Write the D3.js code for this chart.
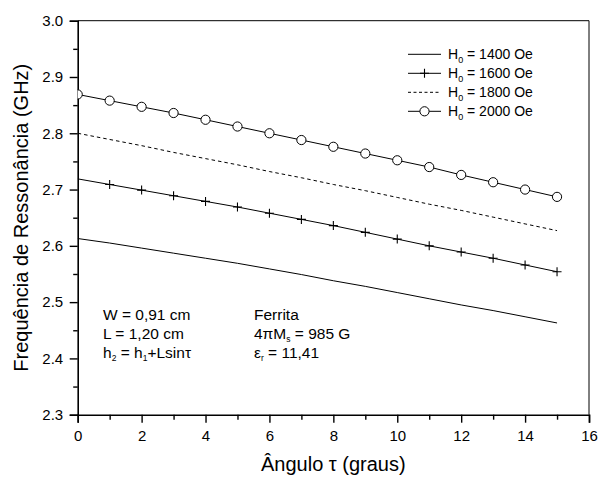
<!DOCTYPE html>
<html>
<head>
<meta charset="utf-8">
<script src="https://cdn.jsdelivr.net/npm/d3@7"></script>
<style>
  html, body { margin: 0; padding: 0; background: #fff; }
  svg { display: block; font-family: "Liberation Sans", Arial, sans-serif; }
</style>
</head>
<body>
<svg id="chart" width="598" height="478"></svg>
<script>
// ---- data ----
const angles = [0,1,2,3,4,5,6,7,8,9,10,11,12,13,14,15];
const h1400 = [2.613,2.605,2.596,2.587,2.578,2.569,2.559,2.549,2.538,2.528,2.517,2.506,2.495,2.485,2.474,2.463];
const h1600 = [2.719,2.709,2.699,2.689,2.679,2.669,2.658,2.647,2.636,2.624,2.612,2.600,2.589,2.578,2.566,2.554];
const h1800 = [2.800,2.789,2.778,2.766,2.755,2.744,2.732,2.721,2.709,2.698,2.686,2.674,2.663,2.651,2.639,2.627];
const h2000 = [2.869,2.858,2.847,2.836,2.824,2.812,2.800,2.788,2.776,2.764,2.752,2.740,2.726,2.713,2.700,2.687];
const seriesLabels = ["1400 Oe","1600 Oe","1800 Oe","2000 Oe"];
const xTicks = [0,2,4,6,8,10,12,14,16];
const yTicks = [2.3,2.4,2.5,2.6,2.7,2.8,2.9,3.0];
const xTitle = "Ângulo τ (graus)";
const yTitle = "Frequência de Ressonância (GHz)";

// ---- layout ----
const svg = d3.select("#chart");
const L = 77.7, R = 589, T = 20.7, B = 414.7;
const x = d3.scaleLinear().domain([0,16]).range([L,R]);
const y = d3.scaleLinear().domain([2.3,3.0]).range([B,T]);

svg.append("defs").append("clipPath").attr("id","clip")
  .append("rect").attr("x",L).attr("y",T).attr("width",R-L).attr("height",B-T);

// frame top/right
svg.append("line").attr("x1",L).attr("x2",R).attr("y1",T).attr("y2",T).attr("stroke","#000").attr("stroke-width",1);
svg.append("line").attr("x1",R).attr("x2",R).attr("y1",T).attr("y2",B).attr("stroke","#000").attr("stroke-width",1);

// axes
const fmtY = d3.format(".1f");
const xAxis = svg.append("g").attr("transform",`translate(0,${B})`)
  .call(d3.axisBottom(x).tickValues(xTicks).tickSize(8).tickPadding(8).tickFormat(d3.format("d")));
const xMinor = svg.append("g").attr("transform",`translate(0,${B})`)
  .call(d3.axisBottom(x).tickValues(d3.range(1,16,2)).tickSize(5).tickFormat(""));
const yAxis = svg.append("g").attr("transform",`translate(${L},0)`)
  .call(d3.axisLeft(y).tickValues(yTicks).tickSize(8).tickPadding(6.5).tickFormat(fmtY));
const yMinor = svg.append("g").attr("transform",`translate(${L},0)`)
  .call(d3.axisLeft(y).tickValues(d3.range(0,7).map(i => 2.35 + i*0.1)).tickSize(4.5).tickFormat(""));

[xAxis,xMinor,yAxis,yMinor].forEach(g => {
  g.select(".domain").attr("stroke","#000").attr("stroke-width",1.6);
  g.selectAll(".tick line").attr("stroke","#000").attr("stroke-width",1.4);
  g.selectAll(".tick text").attr("font-size",15).attr("fill","#000")
    .attr("font-family","'Liberation Sans', Arial, sans-serif");
});
xMinor.select(".domain").remove();
yMinor.select(".domain").remove();

// axis titles
svg.append("text").attr("x",(L+R)/2).attr("y",471).attr("text-anchor","middle")
  .attr("font-size",20).text(xTitle);
svg.append("text").attr("transform",`translate(28,${(T+B)/2}) rotate(-90)`).attr("text-anchor","middle")
  .attr("font-size",20).text(yTitle);

// series
const plot = svg.append("g").attr("clip-path","url(#clip)");
const line = d3.line().x((d,i) => x(angles[i])).y(d => y(d));

plot.append("path").datum(h1400).attr("d",line).attr("fill","none").attr("stroke","#000").attr("stroke-width",1);
plot.append("path").datum(h1600).attr("d",line).attr("fill","none").attr("stroke","#000").attr("stroke-width",1);
plot.append("path").datum(h1800).attr("d",line).attr("fill","none").attr("stroke","#000").attr("stroke-width",1)
  .attr("stroke-dasharray","3.5,3");
plot.append("path").datum(h2000).attr("d",line).attr("fill","none").attr("stroke","#000").attr("stroke-width",1);

function plus(g, cx, cy, s) {
  g.append("path").attr("d",`M${cx-s},${cy}H${cx+s}M${cx},${cy-s}V${cy+s}`)
    .attr("stroke","#000").attr("stroke-width",1.1).attr("fill","none");
}
h1600.forEach((v,i) => { if (i>0) plus(plot, x(angles[i]), y(v), 4.5); });
plot.selectAll("circle.m").data(h2000).join("circle").attr("class","m")
  .attr("cx",(d,i) => x(angles[i])).attr("cy",d => y(d)).attr("r",4.6)
  .attr("fill","#fff").attr("stroke","#000").attr("stroke-width",1);

// legend
const lg = svg.append("g");
const lx1 = 408, lx2 = 441, tx = 448;
const rowY = [54.3, 73.3, 92.3, 111.3];
rowY.forEach((ry,i) => {
  const ln = lg.append("line").attr("x1",lx1).attr("x2",lx2).attr("y1",ry).attr("y2",ry)
    .attr("stroke","#000").attr("stroke-width",1);
  if (i === 2) ln.attr("stroke-dasharray","3,2.5");
  if (i === 1) plus(lg, (lx1+lx2)/2, ry, 4.5);
  if (i === 3) lg.append("circle").attr("cx",(lx1+lx2)/2).attr("cy",ry).attr("r",4.6)
    .attr("fill","#fff").attr("stroke","#000");
  const t = lg.append("text").attr("x",tx).attr("y",ry+5).attr("font-size",14);
  t.append("tspan").text("H");
  t.append("tspan").attr("font-size",9).attr("dy",4).text("0");
  t.append("tspan").attr("dy",-4).text(" = " + seriesLabels[i]);
});

// annotations: one multi-line text block per column
function block(xp, y0, lines, gap) {
  const t = svg.append("text").attr("x",xp).attr("y",y0).attr("font-size",15.5);
  lines.forEach((parts, li) => {
    let pending = li === 0 ? 0 : gap;
    let first = true;
    parts.forEach(p => {
      const ts = t.append("tspan");
      if (first && li > 0) ts.attr("x", xp);
      first = false;
      if (typeof p === "string") {
        ts.attr("dy", pending).text(p);
        pending = 0;
      } else {
        ts.attr("font-size",8.5).attr("dy",3 + pending).text(p.sub);
        pending = -3;
      }
    });
  });
}
block(103, 319.5, [["W = 0,91 cm"], ["L = 1,20 cm"], ["h", {sub:"2"}, " = h", {sub:"1"}, "+Lsinτ"]], 19);
block(254, 319.5, [["Ferrita"], ["4πM", {sub:"s"}, " = 985 G"], ["ε", {sub:"r"}, " = 11,41"]], 19);
</script>
</body>
</html>
